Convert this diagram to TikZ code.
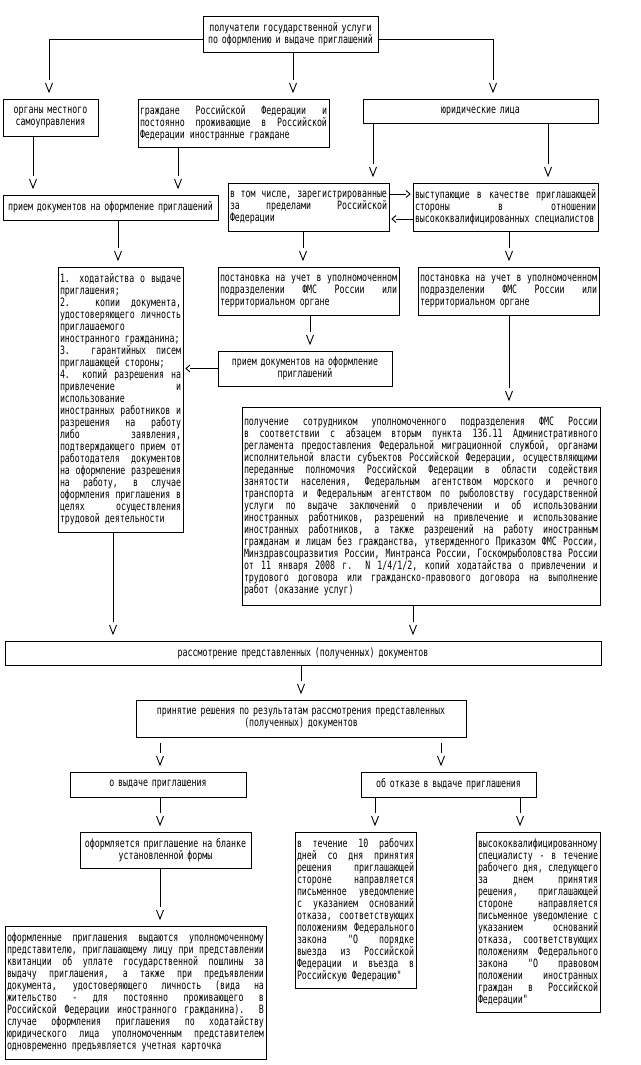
\documentclass[tikz,border=0pt]{standalone}
\usepackage{fontspec}
\newfontfamily\dmono{DejaVu Sans Mono}[FakeStretch=0.72]
\newcommand\bxfont{\dmono\fontsize{11.5}{12}\selectfont\fontdimen3\font=3pt\fontdimen4\font=1.9pt\relax\hyphenpenalty=10000\exhyphenpenalty=10000\tolerance=10000\hfuzz=2pt\parindent=0pt\relax}
\setlength{\parindent}{0pt}
\pgfdeclarearrow{
  name = Vg,
  setup code = {
    \pgfarrowssettipend{0pt}
    \pgfarrowssetlineend{-12pt}
    \pgfarrowssetbackend{-12pt}
    \pgfarrowshullpoint{0pt}{0pt}
    \pgfarrowshullpoint{-9pt}{3.5pt}
    \pgfarrowshullpoint{-9pt}{-3.5pt}
  },
  drawing code = {
    \pgfpathmoveto{\pgfqpoint{-9pt}{3.5pt}}
    \pgfpathlineto{\pgfqpoint{0pt}{0pt}}
    \pgfpathlineto{\pgfqpoint{-9pt}{-3.5pt}}
    \pgfusepathqstroke
  },
  parameters = {},
}
\pgfdeclarearrow{
  name = Ch,
  setup code = {
    \pgfarrowssettipend{0pt}
    \pgfarrowssetlineend{-4pt}
    \pgfarrowssetbackend{-4pt}
    \pgfarrowshullpoint{0pt}{0pt}
    \pgfarrowshullpoint{-4pt}{3.5pt}
    \pgfarrowshullpoint{-4pt}{-3.5pt}
  },
  drawing code = {
    \pgfpathmoveto{\pgfqpoint{-4pt}{3.5pt}}
    \pgfpathlineto{\pgfqpoint{0pt}{0pt}}
    \pgfpathlineto{\pgfqpoint{-4pt}{-3.5pt}}
    \pgfusepathqstroke
  },
  parameters = {},
}
\tikzset{
  box/.style={draw, line width=0.9pt, anchor=north west, inner xsep=2pt, inner ysep=0pt, outer sep=0pt, font=\bxfont},
  cbox/.style={box, align=center},
  jbox/.style={box, align=justify},
  conn/.style={draw, line width=0.9pt, -Vg, shorten >=7pt},
  side/.style={draw, line width=0.9pt, -Ch, shorten >=3pt},
}
\begin{document}
\begin{tikzpicture}[x=1pt, y=-1pt]
\fill[white] (0,0) rectangle (640,1065);
\useasboundingbox (0,0) rectangle (640,1065);

% boxes
\node[cbox, text width=171pt, minimum height=36pt] (top) at (203,16) {получатели государственной услуги\\по оформлению и выдаче приглашений};
\node[cbox, text width=91pt, minimum height=37pt] (organs) at (3,99) {органы местного\\самоуправления};
\node[jbox, text width=187pt, minimum height=48pt] (grazh) at (138,99) {граждане Российской Федерации и\linebreak постоянно проживающие в Российской\linebreak Федерации иностранные граждане};
\node[cbox, text width=231pt, minimum height=24pt] (jur) at (363,99) {юридические лица};
\node[cbox, text width=211pt, minimum height=25pt] (priem1) at (3,195) {прием документов на оформление приглашений};
\node[jbox, text width=157pt, minimum height=48pt] (vtom) at (228,183) {в том числе, зарегистрированные\linebreak за пределами Российской\linebreak Федерации};
\node[jbox, text width=181pt, minimum height=48pt] (vyst) at (413,183) {выступающие в качестве приглашающей\linebreak стороны в отношении\linebreak высококвалифицированных специалистов};
\node[jbox, text width=121pt, minimum height=265pt] (list) at (58,267) {1. ходатайства о выдаче\linebreak приглашения;\par 2. копии документа,\linebreak удостоверяющего личность\linebreak приглашаемого\linebreak иностранного гражданина;\par 3. гарантийных писем\linebreak приглашающей стороны;\par 4. копий разрешения на\linebreak привлечение и\linebreak использование\linebreak иностранных работников и\linebreak разрешения на работу\linebreak либо заявления,\linebreak подтверждающего прием от\linebreak работодателя документов\linebreak на оформление разрешения\linebreak на работу, в случае\linebreak оформления приглашения в\linebreak целях осуществления\linebreak трудовой деятельности};
\node[jbox, text width=177pt, minimum height=48pt] (post1) at (218,267) {постановка на учет в уполномоченном\linebreak подразделении ФМС России или\linebreak территориальном органе};
\node[jbox, text width=177pt, minimum height=48pt] (post2) at (418,267) {постановка на учет в уполномоченном\linebreak подразделении ФМС России или\linebreak территориальном органе};
\node[cbox, text width=170pt, minimum height=35pt] (priem2) at (218,351) {прием документов на оформление\\приглашений};
\node[jbox, text width=354pt, minimum height=198pt] (big) at (242,407) {получение сотрудником уполномоченного подразделения ФМС России\linebreak в соответствии с абзацем вторым пункта 136.11 Административного\linebreak регламента предоставления Федеральной миграционной службой, органами\linebreak исполнительной власти субъектов Российской Федерации, осуществляющими\linebreak переданные полномочия Российской Федерации в области содействия\linebreak занятости населения, Федеральным агентством морского и речного\linebreak транспорта и Федеральным агентством по рыболовству государственной\linebreak услуги по выдаче заключений о привлечении и об использовании\linebreak иностранных работников, разрешений на привлечение и использование\linebreak иностранных работников, а также разрешений на работу иностранным\linebreak гражданам и лицам без гражданства, утвержденного Приказом ФМС России,\linebreak Минздравсоцразвития России, Минтранса России, Госкомрыболовства России\linebreak от 11 января 2008 г. N 1/4/1/2, копий ходатайства о привлечении и\linebreak трудового договора или гражданско-правового договора на выполнение\linebreak работ (оказание услуг)};
\node[cbox, text width=592pt, minimum height=24pt] (rassm) at (5,641) {рассмотрение представленных (полученных) документов};
\node[cbox, text width=326pt, minimum height=37pt] (prin) at (136,700) {принятие решения по результатам рассмотрения представленных\\(полученных) документов};
\node[cbox, text width=172pt, minimum height=25pt] (ovyd) at (70,772) {о выдаче приглашения};
\node[cbox, text width=171pt, minimum height=25pt] (otkaz) at (361,772) {об отказе в выдаче приглашения};
\node[cbox, text width=167pt, minimum height=36pt] (oform) at (80,832) {оформляется приглашение на бланке\\установленной формы};
\node[jbox, text width=257pt, minimum height=133pt] (oformlen) at (5,926) {оформленные приглашения выдаются уполномоченному\linebreak представителю, приглашающему лицу при представлении\linebreak квитанции об уплате государственной пошлины за\linebreak выдачу приглашения, а также при предъявлении\linebreak документа, удостоверяющего личность (вида на\linebreak жительство - для постоянно проживающего в\linebreak Российской Федерации иностранного гражданина). В\linebreak случае оформления приглашения по ходатайству\linebreak юридического лица уполномоченным представителем\linebreak одновременно предъявляется учетная карточка};
\node[jbox, text width=117pt, minimum height=156pt] (v10) at (295,832) {в течение 10 рабочих\linebreak дней со дня принятия\linebreak решения приглашающей\linebreak стороне направляется\linebreak письменное уведомление\linebreak с указанием оснований\linebreak отказа, соответствующих\linebreak положениям Федерального\linebreak закона "О порядке\linebreak выезда из Российской\linebreak Федерации и въезда в\linebreak Российскую Федерацию"};
\node[jbox, text width=120pt, minimum height=180pt] (vysok) at (476,832) {высококвалифицированному\linebreak специалисту - в течение\linebreak рабочего дня, следующего\linebreak за днем принятия\linebreak решения, приглашающей\linebreak стороне направляется\linebreak письменное уведомление с\linebreak указанием оснований\linebreak отказа, соответствующих\linebreak положениям Федерального\linebreak закона "О правовом\linebreak положении иностранных\linebreak граждан в Российской\linebreak Федерации"};

% connector start points
\coordinate (h1) at ([yshift=-5pt]top.west);
\coordinate (e1) at ([xshift=-1.5pt]organs.north);
\coordinate (h2) at ([yshift=-5pt]top.east);
\coordinate (e2) at ([xshift=12.5pt]jur.north);
\coordinate (c1) at ([xshift=2.5pt]top.south);
\coordinate (c2) at ([xshift=-17.5pt]organs.south);
\coordinate (c3) at ([xshift=-55.5pt]grazh.south);
\coordinate (c4) at ([xshift=-107.5pt]jur.south);
\coordinate (c5) at ([xshift=67.5pt]jur.south);
\coordinate (c6) at ([xshift=7.5pt]priem1.south);
\coordinate (c7) at ([xshift=-5.5pt]vtom.south);
\coordinate (c8) at ([xshift=3.5pt]vyst.south);
\coordinate (c9) at ([xshift=1.5pt]post1.south);
\coordinate (c10) at ([xshift=0.5pt]post2.south);
\coordinate (c11) at ([xshift=-7.5pt]list.south);
\coordinate (c12) at ([xshift=-8pt]big.south);
\coordinate (c13) at ([xshift=-2pt]rassm.south);
\coordinate (c14) at ([xshift=-141pt]prin.south);
\coordinate (c15) at ([xshift=140pt]prin.south);
\coordinate (c16) at ([xshift=2pt]ovyd.south);
\coordinate (c17) at ([xshift=-73.5pt]otkaz.south);
\coordinate (c18) at ([xshift=71.5pt]otkaz.south);
\coordinate (c19) at ([xshift=-5.5pt]oform.south);
\coordinate (s1) at ([yshift=13pt]vtom.east);
\coordinate (s2) at ([yshift=-12pt]vyst.west);

% connectors
\draw[conn] (h1) -| (e1);
\draw[conn] (h2) -| (e2);
\draw[conn] (c1) -- (c1 |- grazh.north);
\draw[conn] (c2) -- (c2 |- priem1.north);
\draw[conn] (c3) -- (c3 |- priem1.north);
\draw[conn] (c4) -- (c4 |- vtom.north);
\draw[conn] (c5) -- (c5 |- vyst.north);
\draw[side] (s1) -- (s1 -| vyst.west);
\draw[side] (s2) -- (s2 -| vtom.east);
\draw[conn] (c6) -- (c6 |- list.north);
\draw[conn] (c7) -- (c7 |- post1.north);
\draw[conn] (c8) -- (c8 |- post2.north);
\draw[conn] (c9) -- (c9 |- priem2.north);
\draw[side] (priem2.west) -- (priem2.west -| list.east);
\draw[conn] (c10) -- (c10 |- big.north);
\draw[conn] (c11) -- (c11 |- rassm.north);
\draw[conn] (c12) -- (c12 |- rassm.north);
\draw[conn] (c13) -- (c13 |- prin.north);
\draw[conn, shorten <=6pt] (c14) -- (c14 |- ovyd.north);
\draw[conn, shorten <=6pt] (c15) -- (c15 |- otkaz.north);
\draw[conn] (c16) -- (c16 |- oform.north);
\draw[conn] (c17) -- (c17 |- v10.north);
\draw[conn] (c18) -- (c18 |- vysok.north);
\draw[conn] (c19) -- (c19 |- oformlen.north);
\end{tikzpicture}
\end{document}
